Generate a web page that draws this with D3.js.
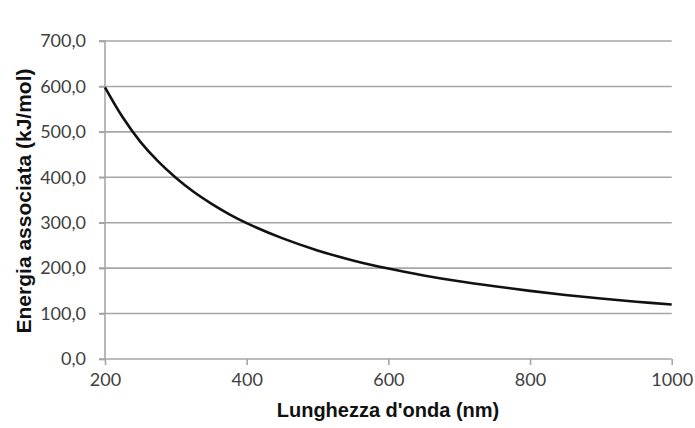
<!DOCTYPE html>
<html><head><meta charset="utf-8">
<script src="https://cdn.jsdelivr.net/npm/d3@7"></script>
<style>body{margin:0;background:#fff}svg{display:block}</style>
</head><body>
<svg id="c" width="695" height="428"></svg>
<script>
const wavelengths = [200,225,250,275,300,325,350,375,400,450,500,550,600,650,700,750,800,850,900,950,1000];
const energies   = [598,532,478,435,399,368,342,319,299,266,239,217,199,184,171,160,150,141,133,126,120];
const xTicks = [200,400,600,800,1000];
const yTicks = [0,100,200,300,400,500,600,700];
const xTitle = "Lunghezza d'onda (nm)";
const yTitle = "Energia associata (kJ/mol)";

const svg = d3.select("#c");
const x = d3.scaleLinear().domain([200,1000]).range([105,671.7]);
const y = d3.scaleLinear().domain([0,700]).range([359,41]);
const fmt = d => d.toFixed(1).replace(".", ",");

// gridlines
svg.append("g").selectAll("line").data(yTicks.filter(d=>d>0)).join("line")
  .attr("x1",99).attr("x2",x(1000)).attr("y1",d=>y(d)).attr("y2",d=>y(d))
  .attr("stroke","#a6a6a6").attr("stroke-width",1.6);

// y axis
const ya = svg.append("g").attr("transform",`translate(${x(200)},0)`)
  .call(d3.axisLeft(y).tickValues(yTicks).tickFormat(fmt).tickSize(6).tickPadding(13));
ya.select(".domain").attr("stroke","#a6a6a6").attr("stroke-width",1.6).attr("d",`M-6,${y(0)}H0V${y(700)}H-6`);
ya.selectAll(".tick line").attr("stroke","#a6a6a6").attr("stroke-width",1.6);
ya.selectAll("text").attr("font-family","Lato, 'Open Sans', sans-serif").attr("font-size",18).attr("fill","#404040");

// x axis
const xa = svg.append("g").attr("transform",`translate(0,${y(0)})`)
  .call(d3.axisBottom(x).tickValues(xTicks).tickFormat(d3.format("d")).tickSize(6).tickPadding(8));
xa.select(".domain").attr("stroke","#a6a6a6").attr("stroke-width",1.6).attr("d",`M${x(200)},0H${x(1000)}`);
xa.selectAll(".tick line").attr("stroke","#a6a6a6").attr("stroke-width",1.6);
xa.selectAll("text").attr("font-family","Lato, 'Open Sans', sans-serif").attr("font-size",18).attr("fill","#404040");

// curve
const pts = wavelengths.map((w,i)=>[w,energies[i]]);
svg.append("path").datum(pts)
  .attr("fill","none").attr("stroke","#111").attr("stroke-width",2.6)
  .attr("d", d3.line().x(d=>x(d[0])).y(d=>y(d[1])).curve(d3.curveCatmullRom));

// titles
svg.append("text").attr("x",388).attr("y",417).attr("text-anchor","middle")
  .attr("font-family","'Liberation Sans', Arial, sans-serif").attr("font-weight","bold")
  .attr("font-size",20).attr("fill","#111").text(xTitle);
svg.append("text").attr("transform","translate(31,201) rotate(-90)").attr("text-anchor","middle")
  .attr("font-family","'Liberation Sans', Arial, sans-serif").attr("font-weight","bold")
  .attr("font-size",21).attr("fill","#111").text(yTitle);
</script>
</body></html>
